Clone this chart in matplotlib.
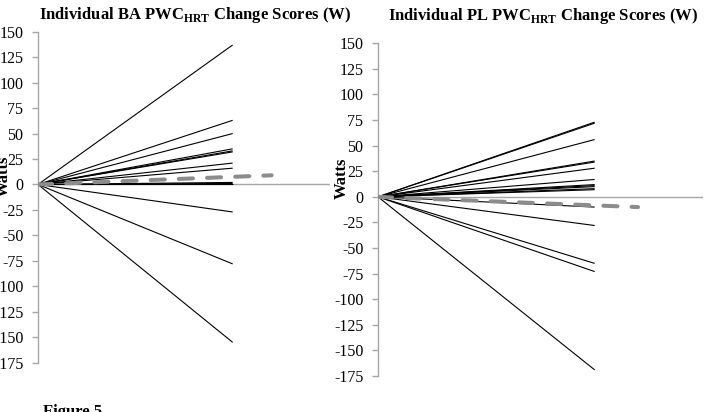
import numpy as np
import matplotlib.pyplot as plt

plt.rcParams['font.family'] = 'Liberation Serif'
plt.rcParams['mathtext.fontset'] = 'custom'
plt.rcParams['mathtext.rm'] = 'Liberation Serif'
plt.rcParams['mathtext.bf'] = 'Liberation Serif:bold'
plt.rcParams['axes.unicode_minus'] = False

# individual change scores (W), pre = 0, post = value
ba_change = [137, 63, 50, 35, 33, 32, 21, 16, 2, 1, 0, -27, -78, -155]
pl_change = [73, 72, 56, 35, 34, 28, 17, 12, 11, 10, 8, 7, -10, -28, -65, -73, -169]
# group mean line (dashed grey)
ba_mean = [0, 9]
pl_mean = [0, -10]

x_ind = [0, 1]
x_mean = [0, 1.2]
yticks = np.arange(-175, 151, 25)

fig = plt.figure(figsize=(7.07, 4.12), dpi=100)
ax1 = fig.add_axes([38/707, 1 - 362.7/412, 292/707, 331/412])
ax2 = fig.add_axes([378/707, 1 - 376/412, 325/707, 332.7/412])

titles = [r'Individual BA PWC$_{\mathbf{HRT}}$ Change Scores (W)',
          r'Individual PL PWC$_{\mathbf{HRT}}$ Change Scores (W)']
lab_y = [0.564, 0.595]
lab_x = [-0.089, -0.086]

for i, (ax, vals, mean) in enumerate([(ax1, ba_change, ba_mean), (ax2, pl_change, pl_mean)]):
    for v in vals:
        ax.plot(x_ind, [0, v], color='black', lw=0.8, solid_capstyle='butt')
    ax.plot(x_mean, mean, color='#8c8c8c', lw=2.9, dashes=(3.5, 3.5),
            dash_capstyle='round', zorder=3)
    ax.axhline(0, color='#a6a6a6', lw=1.0, zorder=1)
    ax.set_xlim(0, 1.5)
    ax.set_ylim(-175, 150)
    ax.set_yticks(yticks)
    ax.set_yticklabels([str(t) for t in yticks])
    ax.set_xticks([])
    for s in ['top', 'right', 'bottom']:
        ax.spines[s].set_visible(False)
    ax.spines['left'].set_color('#a6a6a6')
    ax.spines['left'].set_linewidth(1.0)
    ax.tick_params(axis='y', direction='out', length=4, width=1.0,
                   color='#a6a6a6', pad=6.5, labelsize=11.5)
    ax.set_ylabel('Watts', fontsize=12, fontweight='bold')
    ax.yaxis.set_label_coords(lab_x[i], lab_y[i])
    ax.patch.set_alpha(0)

fig.text(195/707, 1 - 15/412, titles[0], ha='center', va='center',
         fontsize=12, fontweight='bold')
fig.text(543/707, 1 - 16/412, titles[1], ha='center', va='center',
         fontsize=12, fontweight='bold')
fig.text(43/707, 1 - 404/412, 'Figure 5', ha='left', va='top',
         fontsize=12, fontweight='bold')

fig.savefig('out.png', dpi=100)
